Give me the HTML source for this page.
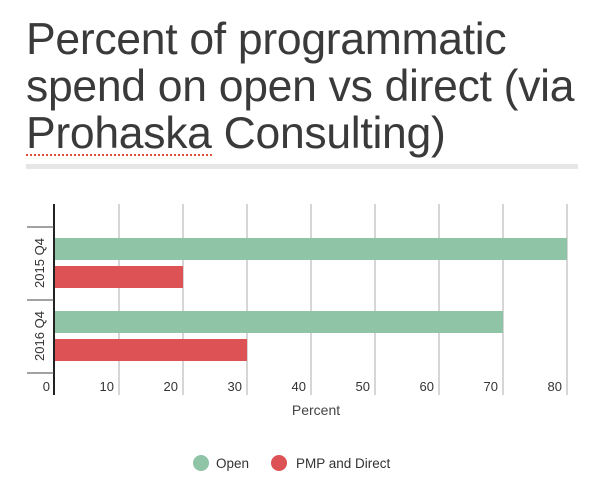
<!DOCTYPE html>
<html><head><style>
body{margin:0;width:600px;height:496px;background:#fff;font-family:"Liberation Sans",sans-serif;overflow:hidden;position:relative}
.t{position:absolute;left:26px;top:16px;font-size:44.5px;line-height:47px;color:#3a3a3a;letter-spacing:-0.3px}
.u{border-bottom:2px dotted #e0503a;line-height:40px;display:inline-block}
</style></head><body>
<div class="t">Percent of programmatic<br>spend on open vs direct (via<br><span class="u">Prohaska</span> Consulting)</div>
<div style="position:absolute;left:26px;top:164px;width:552px;height:5px;background:#e6e6e6"></div>
<svg width="600" height="496" style="position:absolute;left:0;top:0" font-family="Liberation Sans, sans-serif">
<g stroke="#c8c8c8" stroke-width="1.5">
<line x1="119" y1="204" x2="119" y2="395"/><line x1="183" y1="204" x2="183" y2="395"/>
<line x1="247" y1="204" x2="247" y2="395"/><line x1="311" y1="204" x2="311" y2="395"/>
<line x1="375" y1="204" x2="375" y2="395"/><line x1="439" y1="204" x2="439" y2="395"/>
<line x1="503" y1="204" x2="503" y2="395"/><line x1="567" y1="204" x2="567" y2="395"/>
</g>
<rect x="55" y="238" width="512" height="22" fill="#8fc4a6"/>
<rect x="55" y="266" width="128" height="22" fill="#dd5255"/>
<rect x="55" y="311" width="448" height="22" fill="#8fc4a6"/>
<rect x="55" y="339" width="192" height="22" fill="#dd5255"/>
<line x1="54" y1="204" x2="54" y2="395" stroke="#222" stroke-width="2"/>
<g stroke="#444" stroke-width="1"><line x1="27" y1="227" x2="54" y2="227"/><line x1="27" y1="300" x2="54" y2="300"/><line x1="27" y1="373" x2="54" y2="373"/></g>
<g font-size="13" fill="#333">
<text transform="translate(44,263) rotate(-90)" text-anchor="middle">2015 Q4</text>
<text transform="translate(44,336) rotate(-90)" text-anchor="middle">2016 Q4</text>
</g>
<g font-size="13" fill="#333" text-anchor="end">
<text x="50" y="391">0</text><text x="114" y="391">10</text><text x="178" y="391">20</text><text x="242" y="391">30</text><text x="306" y="391">40</text><text x="370" y="391">50</text><text x="434" y="391">60</text><text x="498" y="391">70</text><text x="562" y="391">80</text>
</g>
<text x="316" y="415" font-size="14" fill="#444" text-anchor="middle">Percent</text>
<circle cx="201" cy="463" r="8" fill="#8fc4a6"/>
<text x="216" y="468" font-size="13.5" fill="#333">Open</text>
<circle cx="279" cy="463" r="8" fill="#dd5255"/>
<text x="296" y="468" font-size="13.5" fill="#333">PMP and Direct</text>
</svg>
</body></html>
